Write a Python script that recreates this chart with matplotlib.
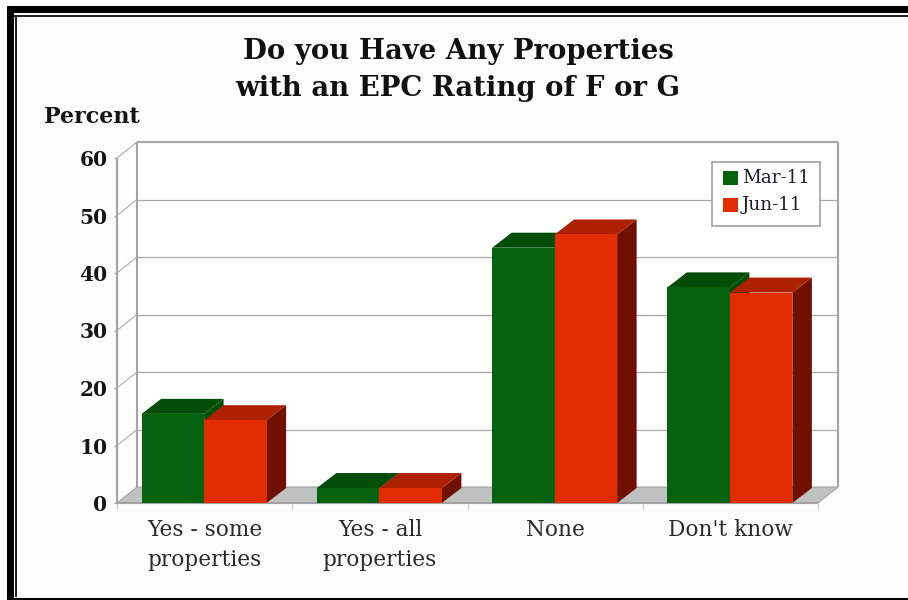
import matplotlib
matplotlib.use("Agg")
import matplotlib.pyplot as plt
from matplotlib.patches import Polygon, Rectangle

categories = ["Yes - some\nproperties", "Yes - all\nproperties", "None", "Don't know"]
series_names = ["Mar-11", "Jun-11"]
mar_values = [15.5, 2.6, 44.4, 37.5]
jun_values = [14.4, 2.6, 46.7, 36.6]
yticks = [0, 10, 20, 30, 40, 50, 60]

W, H = 908, 600
FONT = "DejaVu Serif"
GREEN = ("#05620f", "#024d08", "#024d08")
RED = ("#e32c00", "#ad2000", "#701000")
AXC = "#a3a3a3"

fig = plt.figure(figsize=(W / 100, H / 100), dpi=100, facecolor="#fdfdfd")

def pix(x0, y0, x1, y1, color):
    fig.add_artist(Rectangle((x0 / W, 1 - y1 / H), (x1 - x0) / W, (y1 - y0) / H,
                             transform=fig.transFigure, fc=color, ec="none"))

# outer frame
pix(0, 0, W, 6, "white")
pix(0, 0, 7, H, "white")
pix(7, 6, W, 13, "black")
pix(7, 6, 14, H, "black")
pix(14, 15, W, 16.5, "#222222")
pix(15, 15, 16.5, 597, "#222222")
pix(7, 597.5, W, H, "black")

# front plane of the plot: pixels 117..818 / 158..503
L, R, T, B = 117, 818, 158, 503
ax = fig.add_axes([L / W, 1 - B / H, (R - L) / W, (B - T) / H])
ax.set_xlim(0, 4)
ax.set_ylim(0, 60)
ax.axis("off")

PXX = (R - L) / 4
DX = 20 / PXX                # depth in category units
DY = 16 / ((B - T) / 60)     # depth in value units
BX = 19.5 / PXX              # bar depth
BY = 15 / ((B - T) / 60)
xo = 0.5 / PXX

def poly(pts, fc, z, ec="none", lw=0):
    ax.add_patch(Polygon(pts, closed=True, fc=fc, ec=ec, lw=lw, zorder=z, clip_on=False))

def line(xs, ys, z=1, lw=1.5, c=AXC):
    ax.plot(xs, ys, color=c, lw=lw, zorder=z, clip_on=False, solid_capstyle="butt")

# back wall, floor, grid
poly([(DX, DY), (4 + DX, DY), (4 + DX, 60 + DY), (DX, 60 + DY)], "white", 0.5)
poly([(0, 0), (4, 0), (4 + DX, DY), (DX, DY)], "#c0c2c2", 1, ec=AXC, lw=0.8)
for v in yticks:
    if v > 0:
        line([DX, 4 + DX], [v + DY, v + DY], lw=1.6 if v == 60 else 0.9, c="#a9a9a9")
        line([0, DX], [v, v + DY], lw=0.9, c="#b5b5b5")
    line([-3 / PXX, 0], [v, v], lw=1.0)
    ax.text(-9.5 / PXX, v, str(v), ha="right", va="center_baseline",
            family=FONT, weight="bold", fontsize=14.5, color="#151515", clip_on=False)
line([0, 0], [0, 60], lw=1.5)
line([DX, DX], [DY, 60 + DY], lw=1.5)
line([4 + DX, 4 + DX], [DY, 60 + DY], lw=1.5)
line([0, 4], [0, 0], z=1.5, lw=1.5)
for i in range(5):
    line([i, i], [0, -1.0], lw=0.8, c="#c8c8c8")

# bars
BW = 62.5 / PXX
for i, (a, b) in enumerate(zip(mar_values, jun_values)):
    c = i + 0.5 - xo
    z = 3 + i
    for j, (val, cols) in enumerate(((a, GREEN), (b, RED))):
        x0 = c + (j - 1) * BW
        x1 = x0 + BW
        zz = z + j * 0.1
        poly([(x1, 0), (x1 + BX, BY), (x1 + BX, val + BY), (x1, val)], cols[2], zz)
        poly([(x0, val), (x1, val), (x1 + BX, val + BY), (x0 + BX, val + BY)], cols[1], zz + 0.01)
        poly([(x0, 0), (x1, 0), (x1, val), (x0, val)], cols[0], zz + 0.02)
    ax.text(i + 0.5, -2.7, categories[i], ha="center", va="top", family=FONT,
            fontsize=15.6, color="#2a2a2a", linespacing=1.5, clip_on=False)

# titles
fig.text(458 / W, 1 - 70 / H, "Do you Have Any Properties\nwith an EPC Rating of F or G",
         ha="center", va="center", family=FONT, weight="bold", fontsize=19.8,
         color="#111111", linespacing=1.47)
fig.text(44 / W, 1 - 117 / H, "Percent", ha="left", va="center", family=FONT,
         weight="bold", fontsize=16, color="#151515")

# legend
fig.add_artist(Rectangle((712 / W, 1 - 226 / H), 108 / W, 64 / H, transform=fig.transFigure,
                         fc="white", ec="#a0a0a0", lw=1.2, zorder=20))
for name, col, yc in zip(series_names, (GREEN[0], RED[0]), (177.5, 205)):
    fig.add_artist(Rectangle((723 / W, 1 - (yc + 7) / H), 15 / W, 14 / H,
                             transform=fig.transFigure, fc=col, ec="none", zorder=21))
    fig.text(742 / W, 1 - yc / H, name, ha="left", va="center", family=FONT, fontsize=13.2,
             color="#1d1d2a", zorder=21)

fig.savefig("out.png", dpi=100, facecolor=fig.get_facecolor())
